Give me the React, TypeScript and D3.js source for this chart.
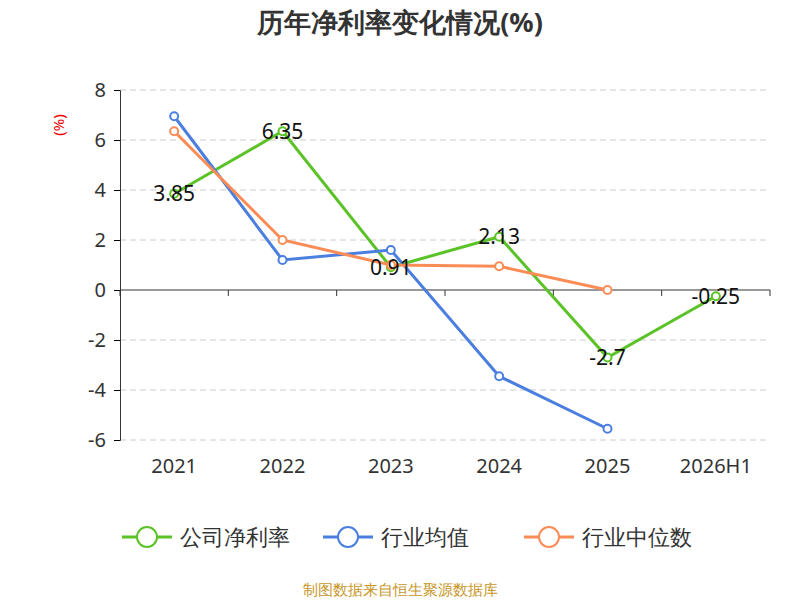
import { useEffect, useRef } from 'react';
import * as d3 from 'd3';

const categories = ['2021', '2022', '2023', '2024', '2025', '2026H1'];
const company = [3.85, 6.35, 0.91, 2.13, -2.7, -0.25];
const industryAvg = [6.95, 1.2, 1.6, -3.45, -5.55];
const industryMedian = [6.35, 2.0, 1.0, 0.95, 0.0];
const yTicks = [8, 6, 4, 2, 0, -2, -4, -6];

const series = [
  { name: '公司净利率', color: '#5bc328', values: company },
  { name: '行业均值', color: '#4a7fe0', values: industryAvg },
  { name: '行业中位数', color: '#fb8c55', values: industryMedian },
];

export default function App() {
  const svgRef = useRef<SVGSVGElement>(null);

  useEffect(() => {
    const svg = d3.select(svgRef.current);
    svg.selectAll('*').remove();
    const font = 'Noto Sans, sans-serif';
    const left = 120, right = 770, top = 90, bottom = 440;

    const x = d3.scaleBand().domain(categories).range([left, right]);
    const y = d3.scaleLinear().domain([-6, 8]).range([bottom, top]);

    svg.append('text').attr('x', 400).attr('y', 32).attr('text-anchor', 'middle')
      .attr('font-size', 27).attr('font-weight', 'bold').attr('fill', '#333')
      .attr('font-family', font).text('历年净利率变化情况(%)');

    svg.append('text').attr('transform', 'translate(64,125) rotate(-90)')
      .attr('text-anchor', 'middle').attr('font-size', 15).attr('fill', '#e00')
      .attr('font-family', font).text('(%)');

    svg.append('g').selectAll('line').data(yTicks.filter(t => t !== 0)).join('line')
      .attr('x1', left).attr('x2', right).attr('y1', d => y(d)).attr('y2', d => y(d))
      .attr('stroke', '#ccc').attr('stroke-dasharray', '6,4');

    const ya = svg.append('g').attr('transform', `translate(${left},0)`)
      .call(d3.axisLeft(y).tickValues(yTicks).tickSize(6).tickPadding(8).tickFormat(d => String(d)));
    ya.select('.domain').attr('stroke', '#333');
    ya.selectAll('text').attr('font-size', 20).attr('fill', '#333').attr('font-family', font);

    const xa = svg.append('g').attr('transform', `translate(0,${y(0)})`);
    xa.append('line').attr('x1', left).attr('x2', right).attr('stroke', '#333');
    xa.selectAll('.tk').data(d3.range(categories.length + 1)).join('line')
      .attr('x1', i => left + i * x.bandwidth()).attr('x2', i => left + i * x.bandwidth())
      .attr('y1', 0).attr('y2', 6).attr('stroke', '#333');
    svg.append('g').selectAll('text').data(categories).join('text')
      .attr('x', d => x(d)! + x.bandwidth() / 2).attr('y', 473).attr('text-anchor', 'middle')
      .attr('font-size', 20).attr('fill', '#333').attr('font-family', font).text(d => d);

    const cx = (i: number) => x(categories[i])! + x.bandwidth() / 2;
    const line = d3.line<number>().x((_, i) => cx(i)).y(d => y(d));

    series.forEach(s => {
      svg.append('path').datum(s.values).attr('d', line).attr('fill', 'none')
        .attr('stroke', s.color).attr('stroke-width', 3);
      svg.append('g').selectAll('circle').data(s.values).join('circle')
        .attr('cx', (_, i) => cx(i)).attr('cy', d => y(d)).attr('r', 4)
        .attr('fill', '#fff').attr('stroke', s.color).attr('stroke-width', 2);
    });

    svg.append('g').selectAll('text').data(company).join('text')
      .attr('x', (_, i) => cx(i)).attr('y', d => y(d)).attr('dy', '0.35em')
      .attr('text-anchor', 'middle').attr('font-size', 21).attr('fill', '#111')
      .attr('font-family', font).text(d => String(d));

    const lg = svg.append('g');
    const lx = [122, 323, 524];
    series.forEach((s, i) => {
      const g = lg.append('g').attr('transform', `translate(${lx[i]},537)`);
      g.append('line').attr('x1', 0).attr('x2', 50).attr('stroke', s.color).attr('stroke-width', 3);
      g.append('circle').attr('cx', 25).attr('r', 10).attr('fill', '#fff')
        .attr('stroke', s.color).attr('stroke-width', 2);
      g.append('text').attr('x', 58).attr('dy', '0.35em').attr('font-size', 22)
        .attr('fill', '#333').attr('font-family', font).text(s.name);
    });

    svg.append('text').attr('x', 400).attr('y', 595).attr('text-anchor', 'middle')
      .attr('font-size', 15).attr('fill', '#c8962a').attr('font-family', font)
      .text('制图数据来自恒生聚源数据库');
  }, []);

  return <svg ref={svgRef} width={800} height={600} style={{ position: 'absolute', left: 0, top: 0 }} />;
}
